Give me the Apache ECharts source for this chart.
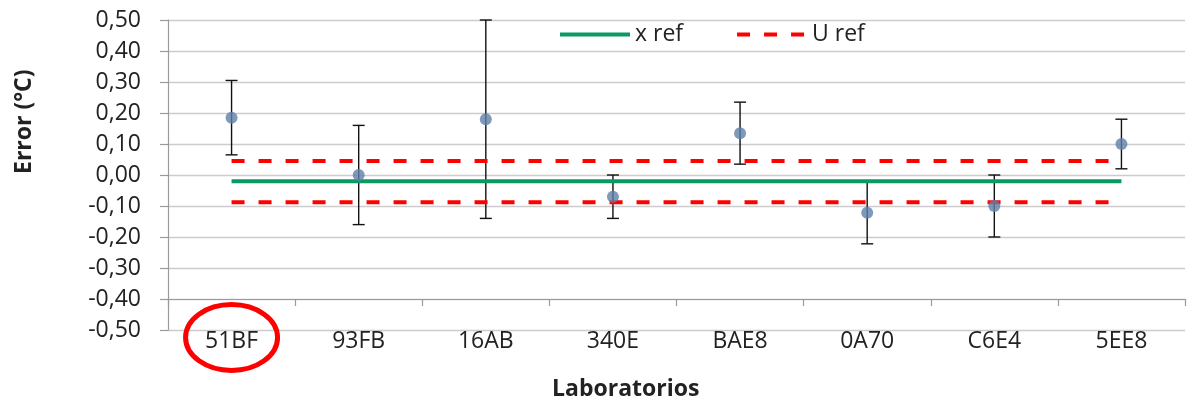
<!DOCTYPE html>
<html><head><meta charset="utf-8">
<script src="https://cdn.jsdelivr.net/npm/echarts@6/dist/echarts.min.js"></script>
<style>html,body{margin:0;padding:0;background:#fff}#c{width:1189px;height:405px}</style>
</head><body><div id="c"></div>
<script>
const categories = ['51BF','93FB','16AB','340E','BAE8','0A70','C6E4','5EE8'];
const errorValues = [0.185, 0.0, 0.18, -0.07, 0.135, -0.122, -0.10, 0.10];
const uncertainties = [0.12, 0.16, 0.32, 0.07, 0.10, 0.10, 0.10, 0.08];
const xRef = -0.02;
const uRefUpper = 0.045;
const uRefLower = -0.088;
const yTicks = {min: -0.5, max: 0.5, interval: 0.1};

const FONT = 'Open Sans';
const FS = 23;
const fmt = v => (Math.abs(v) < 1e-9 ? 0 : v).toFixed(2).replace('.', ',');

const chart = echarts.init(document.getElementById('c'), null, {renderer: 'canvas'});
const errData = categories.map((c, i) => [i, errorValues[i] - uncertainties[i], errorValues[i] + uncertainties[i]]);

const option = {
  animation: false,
  backgroundColor: '#fff',
  grid: {left: 168, right: 4, top: 20, bottom: 75, containLabel: false},
  legend: {
    left: 553, top: 18,
    itemWidth: 70, itemHeight: 2, itemGap: 52,
    itemStyle: {opacity: 0},
    lineStyle: {width: 4},
    textStyle: {fontFamily: FONT, fontSize: FS, color: '#222'},
    data: ['x ref', 'U ref']
  },
  xAxis: [{
    type: 'category', data: categories, boundaryGap: true,
    axisLine: {show: false}, axisTick: {show: false},
    axisLabel: {fontFamily: FONT, fontSize: FS, color: '#222', margin: 0},
    splitLine: {show: false}
  }, {
    type: 'category', data: categories, boundaryGap: true, position: 'bottom', offset: -31,
    axisLine: {show: true, lineStyle: {color: '#9a9a9a', width: 1.2}},
    axisTick: {show: true, length: 7, lineStyle: {color: '#9a9a9a', width: 1.2}},
    axisLabel: {show: false}
  }],
  yAxis: {
    type: 'value', min: yTicks.min, max: yTicks.max, interval: yTicks.interval,
    axisLine: {show: true, lineStyle: {color: '#9a9a9a', width: 1.2}},
    axisTick: {show: true, length: 8, lineStyle: {color: '#9a9a9a', width: 1.2}},
    axisLabel: {fontFamily: FONT, fontSize: FS, color: '#222', margin: 27, formatter: fmt},
    splitLine: {show: true, lineStyle: {color: '#cccccc', width: 1.4}}
  },
  series: [
    {
      name: 'errbar', type: 'custom', z: 2,
      data: errData,
      renderItem: function (params, api) {
        const x = api.value(0);
        const lo = api.coord([x, api.value(1)]);
        const hi = api.coord([x, api.value(2)]);
        const hw = 6;
        const st = {stroke: '#111', lineWidth: 1.4};
        return {type: 'group', children: [
          {type: 'line', shape: {x1: lo[0], y1: lo[1], x2: hi[0], y2: hi[1]}, style: st},
          {type: 'line', shape: {x1: lo[0]-hw, y1: lo[1], x2: lo[0]+hw, y2: lo[1]}, style: st},
          {type: 'line', shape: {x1: hi[0]-hw, y1: hi[1], x2: hi[0]+hw, y2: hi[1]}, style: st}
        ]};
      }
    },
    {
      name: 'x ref', type: 'line', z: 3, symbol: 'none', color: '#0a9a63',
      data: categories.map(() => xRef),
      lineStyle: {color: '#0a9a63', width: 4}
    },
    {
      name: 'U ref', type: 'line', z: 3, symbol: 'none', color: '#ff0000',
      data: categories.map(() => uRefUpper),
      lineStyle: {color: '#ff0000', width: 4, type: [13, 14]}
    },
    {
      name: 'U ref', type: 'line', z: 3, symbol: 'none', color: '#ff0000',
      data: categories.map(() => uRefLower),
      lineStyle: {color: '#ff0000', width: 4, type: [13, 14]}
    },
    {
      name: 'Error', type: 'scatter', z: 4, symbolSize: 12,
      data: errorValues,
      itemStyle: {color: '#5f80aa'}
    }
  ]
};
chart.setOption(option);

const p0 = chart.convertToPixel({xAxisIndex: 0, yAxisIndex: 0}, [0, yTicks.min]);
chart.setOption({
  graphic: [
    {type: 'text', rotation: Math.PI / 2,
      style: {text: 'Error (°C)', fontFamily: FONT, fontSize: FS, fontWeight: 'bold', fill: '#222',
        x: 0, y: 0},
      x: 13, y: 174},
    {type: 'text', left: 552, top: 378,
      style: {text: 'Laboratorios', fontFamily: FONT, fontSize: FS, fontWeight: 'bold', fill: '#222'}},
    {type: 'ellipse', shape: {cx: p0[0], cy: p0[1] + 7.5, rx: 46, ry: 33},
      style: {fill: 'none', stroke: '#ff0000', lineWidth: 5}, z: 10}
  ]
});
</script></body></html>
